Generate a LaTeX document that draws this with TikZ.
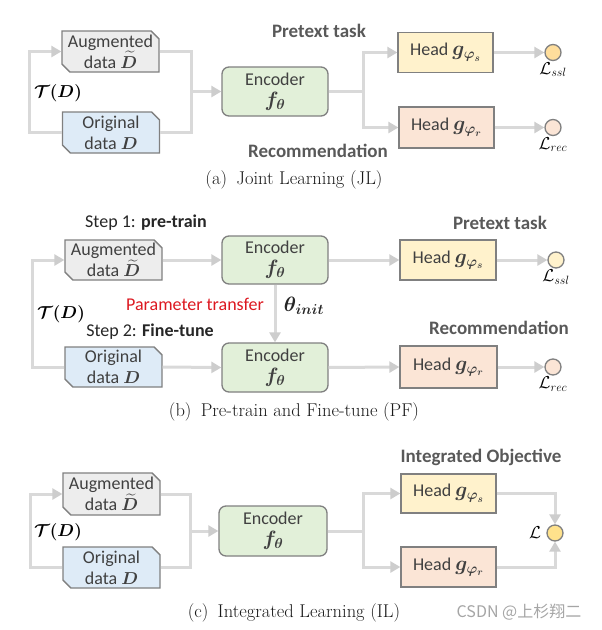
\documentclass[tikz,border=0pt]{standalone}
\usepackage{fontspec}
\usepackage{amsmath,bm}
\usetikzlibrary{arrows.meta,shapes.misc}
\newfontfamily\carlito{Carlito}
\newfontfamily\cjkfont{Noto Sans CJK SC}
\newcommand{\mathsz}{\fontsize{20}{20}\selectfont}
\newcommand{\datasz}{\fontsize{19}{19}\selectfont}
\definecolor{boxline}{RGB}{128,128,128}
\definecolor{flowgray}{RGB}{217,217,217}
\definecolor{tipgray}{RGB}{205,205,205}
\definecolor{auggray}{RGB}{237,237,237}
\definecolor{origblue}{RGB}{222,235,247}
\definecolor{encgreen}{RGB}{226,240,217}
\definecolor{headyel}{RGB}{255,242,204}
\definecolor{headpink}{RGB}{251,229,214}
\definecolor{lossorange}{RGB}{255,222,156}
\definecolor{lossyel}{RGB}{255,226,140}
\definecolor{txtgray}{RGB}{64,64,64}
\definecolor{taskgray}{RGB}{89,89,89}
\definecolor{paramred}{RGB}{220,24,32}
\definecolor{markgray}{RGB}{165,165,165}

\tikzset{
  databox/.style={chamfered rectangle, chamfered rectangle corners={north east,south west},
    chamfered rectangle xsep=5pt, draw=boxline, line width=1.3pt,
    minimum width=97pt, minimum height=41pt, inner sep=0pt, align=center,
    text=txtgray, font=\carlito\fontsize{18}{21}\selectfont},
  encbox/.style={rectangle, rounded corners=7pt, draw=boxline, line width=1.3pt,
    fill=encgreen, minimum width=106pt, minimum height=49pt, inner sep=0pt,
    align=center, text=txtgray, font=\carlito\fontsize{18}{21}\selectfont},
  headbox/.style={rectangle, draw=boxline, line width=1.3pt, minimum width=95pt,
    minimum height=40pt, inner sep=0pt, text=txtgray,
    font=\carlito\fontsize{18}{21}\selectfont},
  loss/.style={circle, draw=boxline, line width=1.3pt, minimum size=16pt, inner sep=0pt},
  lossname/.style={font=\fontsize{18}{19}\selectfont, inner sep=1pt},
  tflabel/.style={font=\fontsize{16.5}{18}\selectfont},
  task/.style={font=\carlito\bfseries\fontsize{19}{21}\selectfont, text=taskgray},
  steplbl/.style={font=\carlito\fontsize{18}{21}\selectfont, text=black!85},
  caption/.style={font=\fontsize{18.5}{20}\selectfont, text=black!90},
  flowline/.style={draw=flowgray, line width=3pt},
  flow/.style={flowline, -{Triangle[length=10pt,width=11pt,color=tipgray]}},
}

\begin{document}
\begin{tikzpicture}[x=1pt,y=-1pt]
  \useasboundingbox (0,0) rectangle (602,630);

  % (a) joint learning
  \node[databox, fill=auggray] (augA) at (110.5,51.5) {Augmented\\data {\datasz$\bm{\widetilde{D}}$}};
  \node[databox, fill=origblue] (origA) at (111,132.5) {Original\\data {\datasz$\bm{D}$}};
  \node[encbox] (encA) at (275,91.5) {Encoder\\{\mathsz$\bm{f_\theta}$}};
  \node[headbox, fill=headyel] (headsA) at (445.5,52.5) {Head {\mathsz$\bm{g_{\varphi_s}}$}};
  \node[headbox, fill=headpink, minimum height=41pt] (headrA) at (446.5,127.5) {Head {\mathsz$\bm{g_{\varphi_r}}$}};
  \node[loss, fill=lossorange] (lossAs) at (553,52.5) {};
  \node[loss, fill=headpink] (lossAr) at (553,127.5) {};
  \node[lossname, below=0pt] (lsslA) at (lossAs.south) {$\mathcal{L}_{ssl}$};
  \node[lossname, below=0pt] (lrecA) at (lossAr.south) {$\mathcal{L}_{rec}$};
  \node[tflabel] (tdA) at (58,93) {$\bm{\mathcal{T}(D)}$};
  \node[task] (ptA) at (319,31) {Pretext task};
  \node[task] (recA) at (318,151) {Recommendation};
  \node[caption] (capA) at (294,180) {(a)\enspace Joint Learning (JL)};
  \coordinate (loopA) at (29,92);
  \coordinate (joinA) at (191,91.5);
  \coordinate (forkA) at (363,91.5);
  \draw[flow] (origA.west) -| (loopA) |- (augA.west);
  \draw[flowline] (augA.east) -| (joinA) |- (origA.east);
  \draw[flow] (joinA) -- (encA.west);
  \draw[flowline] (encA.east) -- (forkA);
  \draw[flow] (forkA) |- (headsA.west);
  \draw[flow] (forkA) |- (headrA.west);
  \draw[flow] (headsA.east) -- (lossAs.west);
  \draw[flow] (headrA.east) -- (lossAr.west);

  % (b) pre-train and fine-tune
  \node[databox, fill=auggray, minimum height=40pt] (augB) at (113.5,260) {Augmented\\data {\datasz$\bm{\widetilde{D}}$}};
  \node[databox, fill=origblue, minimum height=40pt] (origB) at (113.5,367) {Original\\data {\datasz$\bm{D}$}};
  \node[encbox, minimum height=48pt] (encB1) at (275,260) {Encoder\\{\mathsz$\bm{f_\theta}$}};
  \node[encbox] (encB2) at (275,367.5) {Encoder\\{\mathsz$\bm{f_\theta}$}};
  \node[headbox, fill=headyel, minimum width=96pt] (headsB) at (448,260) {Head {\mathsz$\bm{g_{\varphi_s}}$}};
  \node[headbox, fill=headpink, minimum width=97pt, minimum height=42pt] (headrB) at (448.5,367) {Head {\mathsz$\bm{g_{\varphi_r}}$}};
  \node[loss, fill=headyel] (lossBs) at (556,260) {};
  \node[loss, fill=headpink] (lossBr) at (553,367) {};
  \node[lossname, below=0pt] (lsslB) at (lossBs.south) {$\mathcal{L}_{ssl}$};
  \node[lossname, below=0pt] (lrecB) at (lossBr.south) {$\mathcal{L}_{rec}$};
  \node[tflabel] (tdB) at (61,314) {$\bm{\mathcal{T}(D)}$};
  \node[steplbl] (step1) at (146,223) {Step 1: \textbf{pre-train}};
  \node[steplbl] (step2) at (150,332) {Step 2: \textbf{Fine-tune}};
  \node[steplbl, text=paramred] (ptrans) at (195,304) {Parameter transfer};
  \node[font=\mathsz, text=black!85] (thinit) at (304,306) {$\bm{\theta_{init}}$};
  \node[task] (ptB) at (500,223) {Pretext task};
  \node[task] (recB) at (499,328) {Recommendation};
  \node[caption] (capB) at (294,412) {(b)\enspace Pre-train and Fine-tune (PF)};
  \coordinate (loopB) at (32,313);
  \draw[flow] (origB.west) -| (loopB) |- (augB.west);
  \draw[flow] (augB.east) -- (encB1.west);
  \draw[flow] (origB.east) -- (encB2.west);
  \draw[flow] (encB1.south) -- (encB2.north);
  \draw[flow] (encB1.east) -- (headsB.west);
  \draw[flow] (encB2.east) -- (headrB.west);
  \draw[flow] (headsB.east) -- (lossBs.west);
  \draw[flow] (headrB.east) -- (lossBr.west);

  % (c) integrated learning
  \node[databox, fill=auggray, minimum height=42pt] (augC) at (111.5,494) {Augmented\\data {\datasz$\bm{\widetilde{D}}$}};
  \node[databox, fill=origblue] (origC) at (111.5,567.5) {Original\\data {\datasz$\bm{D}$}};
  \node[encbox, minimum width=108pt, minimum height=50pt] (encC) at (273,531) {Encoder\\{\mathsz$\bm{f_\theta}$}};
  \node[headbox, fill=headyel, minimum height=39pt] (headsC) at (448.5,493.5) {Head {\mathsz$\bm{g_{\varphi_s}}$}};
  \node[headbox, fill=headpink] (headrC) at (448.5,567) {Head {\mathsz$\bm{g_{\varphi_r}}$}};
  \node[loss, fill=lossyel] (lossC) at (555,533) {};
  \node[lossname, left=4pt] (lC) at (lossC.west) {$\mathcal{L}$};
  \node[tflabel] (tdC) at (58,532) {$\bm{\mathcal{T}(D)}$};
  \node[task] (objC) at (481,457) {Integrated Objective};
  \node[caption] (capC) at (294,613) {(c)\enspace Integrated Learning (IL)};
  \node[font=\cjkfont\fontsize{16}{18}\selectfont, text=markgray] (mark) at (519,612) {CSDN @上杉翔二};
  \coordinate (loopC) at (30,531);
  \coordinate (joinC) at (190,531);
  \coordinate (forkC) at (363,531);
  \draw[flow] (origC.west) -| (loopC) |- (augC.west);
  \draw[flowline] (augC.east) -| (joinC) |- (origC.east);
  \draw[flow] (joinC) -- (encC.west);
  \draw[flowline] (encC.east) -- (forkC);
  \draw[flow] (forkC) |- (headsC.west);
  \draw[flow] (forkC) |- (headrC.west);
  \draw[flow] (headsC.east) -| (lossC.north);
  \draw[flow] (headrC.east) -| (lossC.south);
\end{tikzpicture}
\end{document}
